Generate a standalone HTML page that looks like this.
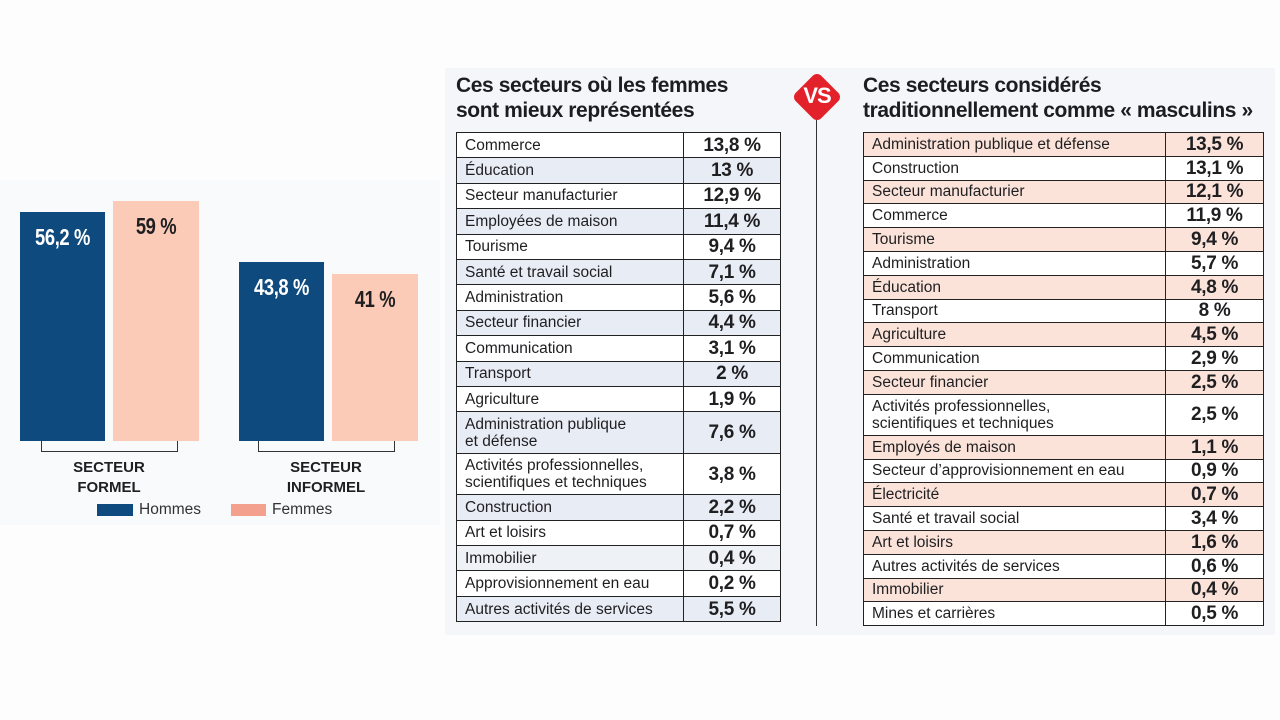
<!DOCTYPE html>
<html><head><meta charset="utf-8"><style>
body{margin:0;width:1280px;height:720px;background:#fdfdfe;position:relative;overflow:hidden;font-family:"Liberation Sans",sans-serif;color:#1f1f22}
.a{position:absolute}
.bar{position:absolute;bottom:279px}
.val{position:absolute;width:100%;text-align:center;font-weight:bold;font-size:23px;letter-spacing:-0.5px;transform:scaleX(0.8)}
.lab{position:absolute;text-align:center;font-weight:bold;font-size:15px;line-height:20px;width:160px}
table{position:absolute;border-collapse:collapse;font-size:15.5px}
td{border:1px solid #222;padding:0 0 0 8px;line-height:17px}
td.v{text-align:center;font-weight:bold;font-size:19px;padding:0;letter-spacing:-0.3px}
.title{position:absolute;font-weight:bold;font-size:21px;line-height:25px;letter-spacing:-0.4px;color:#1d1d20}
</style></head><body>
<div class="a" style="left:0;top:180px;width:440px;height:345px;background:#f9fafc"></div>
<div class="a" style="left:445px;top:68px;width:830px;height:567px;background:#f4f6f9"></div>

<div class="bar" style="left:20px;width:85px;height:229px;background:#0f4a7e"><div class="val" style="top:12px;color:#fff">56,2 %</div></div>
<div class="bar" style="left:113px;width:86px;height:240px;background:#fccbb8"><div class="val" style="top:12px">59 %</div></div>
<div class="bar" style="left:239px;width:85px;height:179px;background:#0f4a7e"><div class="val" style="top:12px;color:#fff">43,8 %</div></div>
<div class="bar" style="left:332px;width:86px;height:167px;background:#fccbb8"><div class="val" style="top:12px">41 %</div></div>
<div class="a" style="left:41px;top:441px;width:135px;height:10px;border:1px solid #333;border-top:none"></div>
<div class="a" style="left:258px;top:441px;width:135px;height:10px;border:1px solid #333;border-top:none"></div>
<div class="lab" style="left:29px;top:458px">SECTEUR<br>FORMEL</div>
<div class="lab" style="left:246px;top:458px">SECTEUR<br>INFORMEL</div>
<div class="a" style="left:97px;top:504px;width:36px;height:12px;background:#0f4a7e"></div>
<div class="a" style="left:139px;top:501px;font-size:15.5px;color:#333">Hommes</div>
<div class="a" style="left:231px;top:504px;width:35px;height:12px;background:#f4a08e"></div>
<div class="a" style="left:272px;top:501px;font-size:15.5px;color:#333">Femmes</div>

<div class="title" style="left:456px;top:73px">Ces secteurs où les femmes<br>sont mieux représentées</div>
<div class="title" style="left:863px;top:73px">Ces secteurs considérés<br>traditionnellement comme « masculins »</div>
<div class="a" style="left:816px;top:110px;width:1px;height:516px;background:#333"></div>
<div class="a" style="left:799px;top:79px;width:36px;height:36px;background:#e3212b;transform:rotate(45deg);border-radius:6px"></div>
<div class="a" style="left:792px;top:83px;width:50px;text-align:center;color:#fff;font-weight:bold;font-size:22px;letter-spacing:-1px">VS</div>

<table style="left:456px;top:132px;width:325px">
<colgroup><col style="width:227px"><col></colgroup>
<tr style="height:25.4px;background:#fff"><td>Commerce</td><td class="v">13,8 %</td></tr>
<tr style="height:25.4px;background:#e8ecf4"><td>Éducation</td><td class="v">13 %</td></tr>
<tr style="height:25.4px;background:#fff"><td>Secteur manufacturier</td><td class="v">12,9 %</td></tr>
<tr style="height:25.4px;background:#e8ecf4"><td>Employées de maison</td><td class="v">11,4 %</td></tr>
<tr style="height:25.4px;background:#fff"><td>Tourisme</td><td class="v">9,4 %</td></tr>
<tr style="height:25.4px;background:#e8ecf4"><td>Santé et travail social</td><td class="v">7,1 %</td></tr>
<tr style="height:25.4px;background:#fff"><td>Administration</td><td class="v">5,6 %</td></tr>
<tr style="height:25.4px;background:#e8ecf4"><td>Secteur financier</td><td class="v">4,4 %</td></tr>
<tr style="height:25.4px;background:#fff"><td>Communication</td><td class="v">3,1 %</td></tr>
<tr style="height:25.4px;background:#e8ecf4"><td>Transport</td><td class="v">2 %</td></tr>
<tr style="height:25.4px;background:#fff"><td>Agriculture</td><td class="v">1,9 %</td></tr>
<tr style="height:42px;background:#e8ecf4"><td>Administration publique<br>et défense</td><td class="v">7,6 %</td></tr>
<tr style="height:41px;background:#fff"><td>Activités professionnelles,<br>scientifiques et techniques</td><td class="v">3,8 %</td></tr>
<tr style="height:25.4px;background:#e8ecf4"><td>Construction</td><td class="v">2,2 %</td></tr>
<tr style="height:25.4px;background:#fff"><td>Art et loisirs</td><td class="v">0,7 %</td></tr>
<tr style="height:25.4px;background:#eef1f6"><td>Immobilier</td><td class="v">0,4 %</td></tr>
<tr style="height:25.4px;background:#fff"><td>Approvisionnement en eau</td><td class="v">0,2 %</td></tr>
<tr style="height:25.4px;background:#e8ecf4"><td>Autres activités de services</td><td class="v">5,5 %</td></tr>
</table>

<table style="left:863px;top:132px;width:401px">
<colgroup><col style="width:302px"><col></colgroup>
<tr style="height:23.8px;background:#fbe3da"><td>Administration publique et défense</td><td class="v">13,5 %</td></tr>
<tr style="height:23.8px;background:#fff"><td>Construction</td><td class="v">13,1 %</td></tr>
<tr style="height:23.8px;background:#fbe3da"><td>Secteur manufacturier</td><td class="v">12,1 %</td></tr>
<tr style="height:23.8px;background:#fff"><td>Commerce</td><td class="v">11,9 %</td></tr>
<tr style="height:23.8px;background:#fbe3da"><td>Tourisme</td><td class="v">9,4 %</td></tr>
<tr style="height:23.8px;background:#fff"><td>Administration</td><td class="v">5,7 %</td></tr>
<tr style="height:23.8px;background:#fbe3da"><td>Éducation</td><td class="v">4,8 %</td></tr>
<tr style="height:23.8px;background:#fff"><td>Transport</td><td class="v">8 %</td></tr>
<tr style="height:23.8px;background:#fbe3da"><td>Agriculture</td><td class="v">4,5 %</td></tr>
<tr style="height:23.8px;background:#fff"><td>Communication</td><td class="v">2,9 %</td></tr>
<tr style="height:23.8px;background:#fbe3da"><td>Secteur financier</td><td class="v">2,5 %</td></tr>
<tr style="height:41px;background:#fff"><td>Activités professionnelles,<br>scientifiques et techniques</td><td class="v">2,5 %</td></tr>
<tr style="height:23.8px;background:#fbe3da"><td>Employés de maison</td><td class="v">1,1 %</td></tr>
<tr style="height:23.8px;background:#fff"><td>Secteur d’approvisionnement en eau</td><td class="v">0,9 %</td></tr>
<tr style="height:23.8px;background:#fbe3da"><td>Électricité</td><td class="v">0,7 %</td></tr>
<tr style="height:23.8px;background:#fff"><td>Santé et travail social</td><td class="v">3,4 %</td></tr>
<tr style="height:23.8px;background:#fbe3da"><td>Art et loisirs</td><td class="v">1,6 %</td></tr>
<tr style="height:23.8px;background:#fff"><td>Autres activités de services</td><td class="v">0,6 %</td></tr>
<tr style="height:23.8px;background:#fbe3da"><td>Immobilier</td><td class="v">0,4 %</td></tr>
<tr style="height:23.8px;background:#fff"><td>Mines et carrières</td><td class="v">0,5 %</td></tr>
</table>
</body></html>
